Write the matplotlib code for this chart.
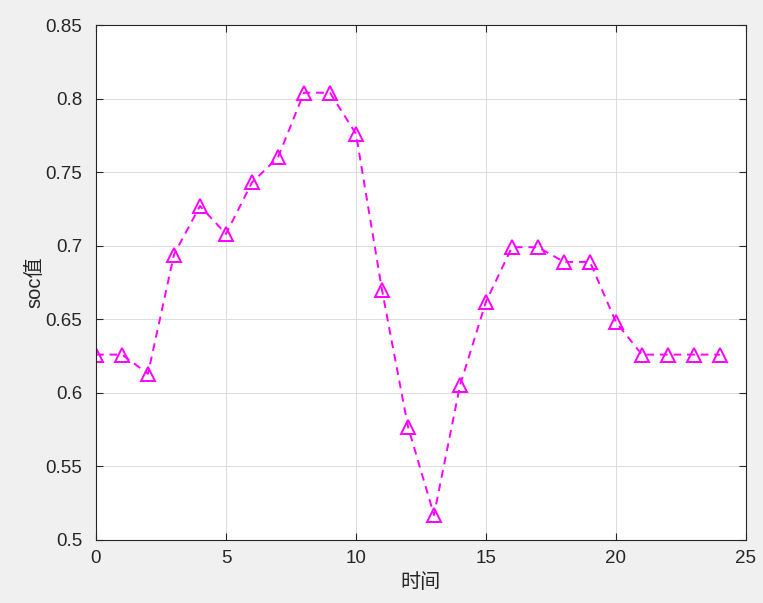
import matplotlib
matplotlib.use("Agg")
import matplotlib.pyplot as plt

hours = list(range(25))
soc = [0.626, 0.626, 0.613, 0.694, 0.727, 0.708, 0.743, 0.760, 0.804, 0.804,
       0.776, 0.670, 0.577, 0.517, 0.605, 0.662, 0.699, 0.699, 0.689, 0.689,
       0.648, 0.626, 0.626, 0.626, 0.626]
xticks = [0, 5, 10, 15, 20, 25]
yticks = [0.5, 0.55, 0.6, 0.65, 0.7, 0.75, 0.8, 0.85]
ytick_labels = ["0.5", "0.55", "0.6", "0.65", "0.7", "0.75", "0.8", "0.85"]

plt.rcParams["font.family"] = ["Liberation Sans", "Noto Sans CJK SC"]

fig = plt.figure(figsize=(7.63, 6.03), dpi=100, facecolor="#f0f0f0")
ax = fig.add_axes([0.1258, 0.1045, 0.8519, 0.854])

ax.plot(hours, soc, linestyle="--", color="#ff00ff", linewidth=1.4,
        marker="^", markersize=9.5, markerfacecolor="none",
        markeredgecolor="#ff00ff", markeredgewidth=1.4, dashes=(4, 3))

ax.set_xlim(0, 25)
ax.set_ylim(0.5, 0.85)
ax.set_xticks(xticks)
ax.set_yticks(yticks)
ax.set_yticklabels(ytick_labels)
ax.grid(True, color="#dcdcdc", linewidth=0.7)
ax.set_axisbelow(True)
ax.tick_params(direction="in", length=5, colors="#262626", labelsize=13.5,
               top=True, right=True, labeltop=False, labelright=False)
ax.tick_params(axis="y", pad=10)
ax.tick_params(axis="x", pad=7)
for s in ax.spines.values():
    s.set_color("#262626")
    s.set_linewidth(0.8)

ax.set_xlabel("时间", fontsize=14.5, family=["Noto Sans CJK SC"], color="#262626", labelpad=4)
ax.set_ylabel("soc值", fontsize=14.5, color="#262626", labelpad=1)

fig.savefig("out.png", dpi=100, facecolor=fig.get_facecolor())
